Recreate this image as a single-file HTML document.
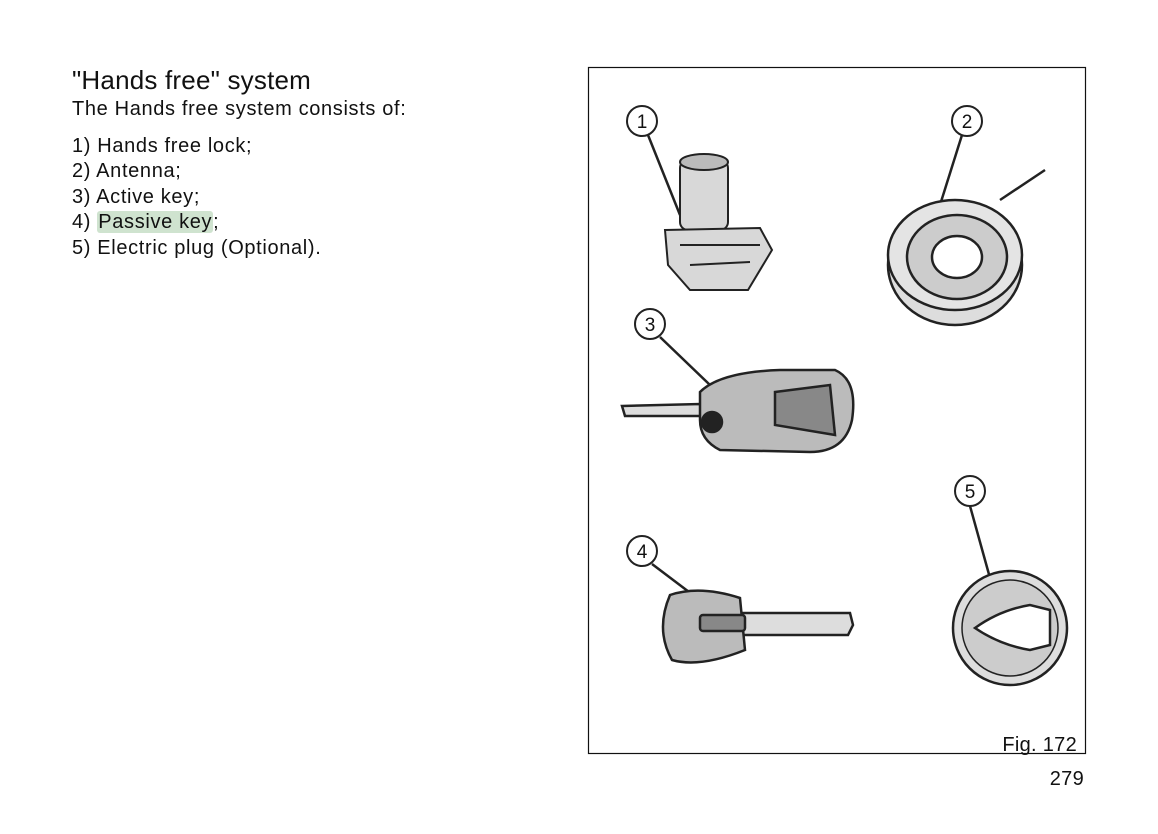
<!DOCTYPE html>
<html><head><meta charset="utf-8"><style>
body{margin:0;width:1158px;height:834px;background:#fff;font-family:"Liberation Sans",Arial,sans-serif;color:#111;position:relative;overflow:hidden}
.t{position:absolute;left:72px;white-space:nowrap;letter-spacing:0.65px;font-size:20px}
</style></head><body>
<div class="t" style="top:65px;font-size:26px;letter-spacing:0.2px">"Hands free" system</div>
<div class="t" style="top:98px">The Hands free system consists of:</div>
<div class="t" style="top:135px">1) Hands free lock;</div>
<div class="t" style="top:160px">2) Antenna;</div>
<div class="t" style="top:186px">3) Active key;</div>
<div class="t" style="top:211px">4) <span style="background:#cfe3cf;border-radius:3px;padding:0 1px">Passive key</span>;</div>
<div class="t" style="top:237px">5) Electric plug (Optional).</div>
<svg width="1158" height="834" style="position:absolute;left:0;top:0" font-family="Liberation Sans,Arial,sans-serif">
<rect x="588.5" y="67.5" width="497" height="686" fill="none" stroke="#111" stroke-width="1.2"/>
<g stroke="#222" stroke-width="2.5" fill="none">
<line x1="648" y1="135" x2="680" y2="215"/>
<line x1="962" y1="135" x2="940" y2="205"/>
<line x1="660" y1="337" x2="710" y2="385"/>
<line x1="652" y1="564" x2="693" y2="595"/>
<line x1="970" y1="506" x2="990" y2="578"/>
</g>
<g stroke="#222" stroke-width="2" fill="#fff">
<circle cx="642" cy="121" r="15"/><circle cx="967" cy="121" r="15"/>
<circle cx="650" cy="324" r="15"/><circle cx="642" cy="551" r="15"/>
<circle cx="970" cy="491" r="15"/>
</g>
<g font-size="19" text-anchor="middle" fill="#111">
<text x="642" y="128">1</text><text x="967" y="128">2</text>
<text x="650" y="331">3</text><text x="642" y="558">4</text><text x="970" y="498">5</text>
</g>
<g stroke="#222" stroke-width="2" fill="#d8d8d8">
<rect x="680" y="160" width="48" height="70" rx="8"/>
<ellipse cx="704" cy="162" rx="24" ry="8" fill="#bbb"/>
<path d="M665 230 L760 228 L772 250 L748 290 L690 290 L668 265 Z"/>
<path d="M680 245 L760 245 M690 265 L750 262" fill="none"/>
</g>
<g stroke="#222" stroke-width="2.5">
<ellipse cx="955" cy="265" rx="67" ry="60" fill="#ddd"/>
<ellipse cx="955" cy="255" rx="67" ry="55" fill="#e4e4e4"/>
<ellipse cx="957" cy="257" rx="50" ry="42" fill="#ccc"/>
<ellipse cx="957" cy="257" rx="25" ry="21" fill="#fff"/>
<path d="M1000 200 L1045 170" fill="none"/>
</g>
<g stroke="#222" stroke-width="2.5" fill="#ccc">
<path d="M622 406 L700 404 L702 416 L625 416 Z" fill="#ddd"/>
<path d="M700 392 Q720 372 780 370 L835 370 Q858 380 852 420 Q845 452 810 452 L720 450 Q700 440 700 420 Z" fill="#bbb"/>
<path d="M775 392 L830 385 L835 435 L775 425 Z" fill="#888"/>
<circle cx="712" cy="422" r="10" fill="#222"/>
</g>
<g stroke="#222" stroke-width="2.5" fill="#ccc">
<path d="M740 613 L850 613 L853 625 L848 635 L740 635 Z" fill="#ddd"/>
<path d="M670 595 Q700 585 740 598 L745 650 Q700 668 672 660 Q655 630 670 595 Z" fill="#bbb"/>
<rect x="700" y="615" width="45" height="16" rx="3" fill="#888"/>
</g>
<g stroke="#222" stroke-width="2.5">
<circle cx="1010" cy="628" r="57" fill="#ddd"/>
<circle cx="1010" cy="628" r="48" fill="#ccc" stroke-width="1.5"/>
<path d="M975 628 Q1000 610 1030 605 L1050 610 L1050 645 L1030 650 Q1000 645 975 628 Z" fill="#fff"/>
</g>
<text x="1077" y="751" font-size="20" text-anchor="end" fill="#111" letter-spacing="0.3">Fig. 172</text>
<text x="1084" y="785" font-size="20" text-anchor="end" fill="#111" letter-spacing="0.3">279</text>
</svg>
</body></html>
